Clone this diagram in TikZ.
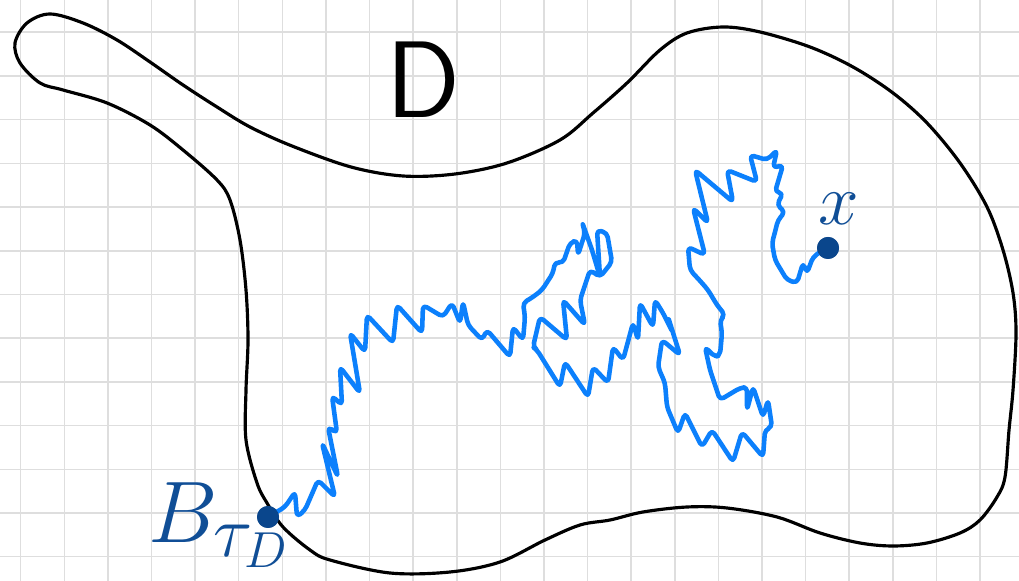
\documentclass[tikz,border=0pt]{standalone}
\usepackage{tikz}
\usetikzlibrary{positioning,calc}
\definecolor{pathblue}{RGB}{12,128,252}
\definecolor{inkblue}{RGB}{16,78,150}
\definecolor{dotblue}{RGB}{10,70,140}
\begin{document}
\begin{tikzpicture}[
	x=0.1mm, y=-0.1mm,
	gridline/.style={line width=0.45pt, black!13},
	domainline/.style={line width=0.9pt, black, line join=round},
	bmpath/.style={line width=1.3pt, pathblue, line join=round, line cap=round, rounded corners=1.2pt},
	enddot/.style={circle, fill=dotblue, inner sep=0pt, minimum size=2.2mm},
	inklabel/.style={inner sep=0pt, text=inkblue}
	]
	
	% page
	\fill[white] (0,0) rectangle (1019,581);
	\useasboundingbox (0,0) rectangle (1019,581);
	
	% grid
	\foreach \i in {0,...,22}
		\draw[gridline] ({20.7+43.6*\i},0) -- ({20.7+43.6*\i},581);
	\foreach \j in {0,...,12}
		\draw[gridline] (0,{32.3+43.7*\j}) -- (1019,{32.3+43.7*\j});
	
	% domain
	\draw[domainline] plot[smooth cycle, tension=0.55] coordinates {
		(50,14) (83,23) (117,40) (150,62) (183,85) (217,107) (250,127)
		(292,146) (351,167) (403,176) (455,174) (507,163) (560,140)
		(593,113) (627,83) (660,50) (687,33) (723,27) (760,32) (810,47)
		(853,67) (893,93) (927,123) (960,163) (987,207) (1003,250)
		(1013,293) (1016,333) (1013,390) (1009,430) (1005,477) (997,497)
		(980,520) (960,533) (927,543) (893,546) (860,543) (820,533)
		(777,517) (727,508) (687,507) (643,512) (610,520) (580,525)
		(545,540) (500,562) (450,572) (390,573) (330,560) (310,550)
		(283,527) (267,503) (257,483) (246,440) (246,390) (248,340)
		(246,290) (240,240) (230,200) (217,180) (183,150) (150,125)
		(107,103) (63,90) (40,83) (20,63) (15,43) (27,23)};
	
	% label D
	\node[inner sep=0pt, anchor=base] (dlabel) at (423,118) {\fontsize{31}{31}\selectfont\sffamily D};
	
	% start and exit points
	\node[enddot] (start) at (828,248) {};
	\node[enddot] (exit) at (268,517) {};
	
	% labels
	\node[inklabel, anchor=base] (xlabel) at (839,225) {\fontsize{20}{20}\selectfont$x$};
	\node[inklabel, anchor=base west] (blabel) at (148,543) {\fontsize{28}{28}\selectfont$B_{\tau_D}$};
	
	% brownian path
	\draw[bmpath] (exit.center) -- plot coordinates {
		(285,507) (295,492) (297,517) (305,510) (318,480) (335,497)
		(322,443) (338,477) (328,427) (337,433) (332,396) (342,405)
		(340,367) (360,393) (350,333) (365,352) (367,315) (393,343)
		(397,305) (422,333) (423,305) (443,317) (452,303) (460,323)
		(463,302) (468,325) (482,340) (487,330) (510,357) (513,327)
		(523,340) (525,317) (523,303) (533,297) (542,290) (553,273)
		(555,262) (563,263) (570,243) (577,240) (578,255) (585,233)
		(582,222) (592,250) (600,277) (597,230) (607,233) (612,262)
		(600,277) (590,270) (580,300) (585,325) (563,300) (567,340)
		(540,317) (533,347) (537,350) (560,387) (565,362) (588,397)
		(593,367) (608,383) (613,347) (623,360) (633,323) (638,340)
		(640,303) (653,327) (655,300) (663,313) (673,333) (668,317)
		(680,355) (662,340) (658,367) (665,383) (667,407) (678,433)
		(685,413) (702,447) (712,430) (733,462) (742,432) (763,457)
		(765,430) (772,427) (768,400) (763,417) (753,387) (747,410)
		(747,387) (740,388) (720,400) (710,370) (705,347) (715,357)
		(720,355) (722,333) (720,320) (725,315) (717,305) (708,290)
		(702,283) (690,270) (688,247) (705,255) (693,208) (708,223)
		(695,170) (733,202) (727,170) (757,182) (750,155) (767,160)
		(777,150) (773,168) (783,165) (775,192) (783,193) (777,205)
		(785,212) (778,220) (775,232) (772,243) (775,260) (787,280)
		(797,283) (803,263) (807,273) (813,257) (823,250)} -- (start.center);
	
	% dots on top
	\node[enddot] at (start) {};
	\node[enddot] at (exit) {};
\end{tikzpicture}
\end{document}
